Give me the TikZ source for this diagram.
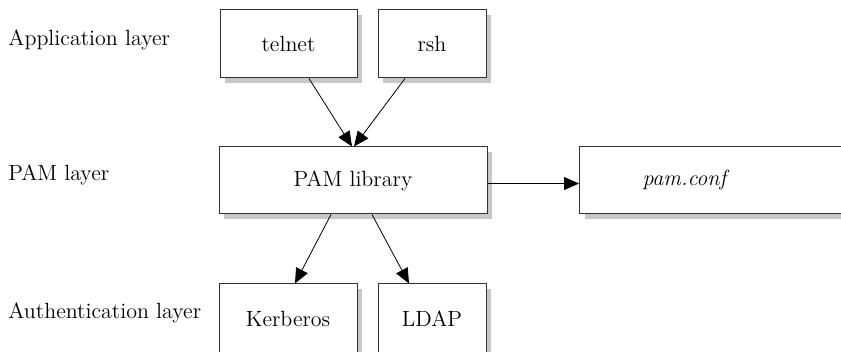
\documentclass[tikz,border=0pt]{standalone}
\usepackage{xcolor}
\usepackage{tikz}
\usetikzlibrary{arrows.meta, calc, shadows}

\begin{document}
\begin{tikzpicture}[x=0.5pt, y=-0.5pt, thin, >={Triangle[length=7.5pt, width=6.5pt]},
    font=\fontsize{11}{13}\selectfont,
    layerbox/.style={rectangle, draw=black!80, line width=0.5pt, fill=white, inner sep=0pt,
        drop shadow={shadow xshift=2.5pt, shadow yshift=-2.5pt, fill=black!22, opacity=1}}]
    \useasboundingbox (0,0) rectangle (841,352);
    \clip (0,0) rectangle (841,352);

    % layer names
    \node[anchor=west, inner sep=0pt] (applabel) at (8,40) {Application layer};
    \node[anchor=west, inner sep=0pt] (pamlabel) at (8,175) {PAM layer};
    \node[anchor=west, inner sep=0pt] (authlabel) at (8,313) {Authentication layer};

    % boxes
    \node[layerbox, minimum width=68.5pt, minimum height=34pt] (telnet) at (288.5,44) {telnet};
    \node[layerbox, minimum width=54pt, minimum height=34pt] (rsh) at (432,44) {rsh};
    \node[layerbox, minimum width=134pt, minimum height=33.5pt] (pam) at (353,180.5) {PAM library};
    \node[layerbox, anchor=west, inner xsep=31.5pt, text width=77.5pt, minimum height=33.5pt,
        align=left] (pamconf) at (579,180.5) {\itshape pam.conf};
    \node[layerbox, minimum width=69pt, minimum height=35pt] (kerberos) at (288,319) {Kerberos};
    \node[layerbox, minimum width=54pt, minimum height=35pt] (ldap) at (432,319) {LDAP};

    \draw[->] ($(telnet.south)+(20.5,0)$) -- ($(pam.north)+(-1,0)$);
    \draw[->] ($(rsh.south)+(-27,0)$) -- ($(pam.north)+(1,0)$);
    \draw[->] ($(pam.east)+(0,3)$) -- ($(pamconf.west)+(0,3)$);
    \draw[->] ($(pam.south)+(-22,0)$) -- ($(kerberos.north)+(7,0)$);
    \draw[->] ($(pam.south)+(19,0)$) -- ($(ldap.north)+(-23,0)$);
\end{tikzpicture}
\end{document}
